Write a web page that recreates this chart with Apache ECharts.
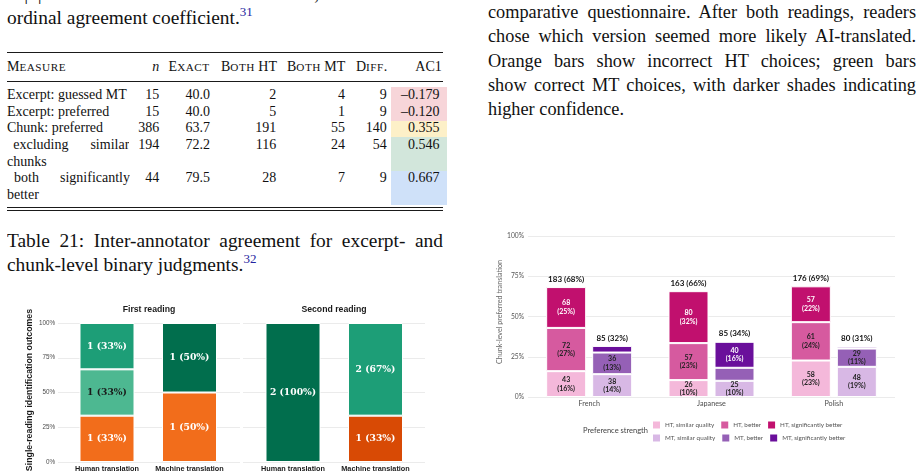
<!DOCTYPE html>
<html>
<head>
<meta charset="utf-8">
<title>Inter-annotator agreement and reading outcomes</title>
<script src="https://cdn.jsdelivr.net/npm/echarts@6.0.0/dist/echarts.min.js"></script>
<style>
  html, body { margin:0; padding:0; background:#fff; }
  body { width:923px; height:473px; overflow:hidden; position:relative;
         font-family:"Liberation Serif","Times New Roman",serif; color:#111; }
  .ab { position:absolute; white-space:nowrap; }
  .jl { text-align:justify; text-align-last:justify; white-space:normal; overflow:hidden; }
  .sup { font-size:13px; position:relative; top:-8px; color:#2424a0; }
  .rule { position:absolute; background:#1a1a1a; left:7px; width:436px; }
  .cellbg { position:absolute; left:391px; width:56px; }
  .sc { font-size:11.2px; letter-spacing:0.5px; }
  #left { position:absolute; left:0; top:290px; width:460px; height:183px; }
  #right { position:absolute; left:480px; top:225px; width:443px; height:248px; }
</style>
</head>
<body>
<div id="page"></div>
<div id="left"></div>
<div id="right"></div>
<script>
// ---------------- Data: left chart (single-reading identification outcomes) ----------------
const readingCats = ['Human translation', 'Machine translation'];
const readingTitles = ['First reading', 'Second reading'];
const outcomeNames = ['HT chosen, confident', 'HT chosen, very confident', 'MT chosen, unsure', 'MT chosen, confident', 'MT chosen, very confident'];
// counts per category [Human translation, Machine translation]
const firstHtConfident = [1, 1];
const firstHtVeryConfident = [0, 0];
const firstMtUnsure = [1, 0];
const firstMtConfident = [1, 0];
const firstMtVeryConfident = [0, 1];
const secondHtConfident = [0, 0];
const secondHtVeryConfident = [0, 1];
const secondMtUnsure = [0, 0];
const secondMtConfident = [0, 2];
const secondMtVeryConfident = [2, 0];
const yTicks = [0, 25, 50, 75, 100];

// ---------------- Data: right chart (chunk-level preferred translation) ----------------
const languages = ['French', 'Japanese', 'Polish'];
const prefNames = ['HT, similar quality', 'HT, better', 'HT, significantly better',
                   'MT, similar quality', 'MT, better', 'MT, significantly better'];
const htSimilar = [43, 26, 58];
const htBetter = [72, 57, 61];
const htSignificant = [68, 80, 57];
const mtSimilar = [38, 25, 48];
const mtBetter = [36, 20, 29];
const mtSignificant = [11, 40, 3];

// ---------------- Data: table 21 ----------------
const tableHeader = ['Measure', 'n', 'Exact', 'Both HT', 'Both MT', 'Diff.', 'AC1'];
const tableMeasures = [['Excerpt: guessed MT'], ['Excerpt: preferred'], ['Chunk: preferred'],
                       ['excluding similar', 'chunks'], ['both significantly', 'better']];
const tableN = ['15', '15', '386', '194', '44'];
const tableExact = ['40.0', '40.0', '63.7', '72.2', '79.5'];
const tableBothHT = ['2', '5', '191', '116', '28'];
const tableBothMT = ['4', '1', '55', '24', '7'];
const tableDiff = ['9', '9', '140', '54', '9'];
const tableAC1 = ['\u20130.179', '\u20130.120', '0.355', '0.546', '0.667'];

// ---------------- Page text ----------------
const page = document.getElementById('page');
function line(html, x, baseline, opts) {
  opts = opts || {};
  const F = opts.size || 19.4, L = opts.lh || 24;
  const d = document.createElement('div');
  d.className = 'ab' + (opts.justify ? ' jl' : '');
  d.style.fontSize = F + 'px';
  d.style.lineHeight = L + 'px';
  d.style.height = L + 'px';
  d.style.top = (baseline - ((L - 1.107 * F) / 2 + 0.891 * F)) + 'px';
  if (opts.align === 'right') {
    d.style.left = (x - 200) + 'px'; d.style.width = '200px'; d.style.textAlign = 'right';
  } else {
    d.style.left = x + 'px';
    if (opts.width) d.style.width = opts.width + 'px';
  }
  d.innerHTML = html;
  page.appendChild(d);
}
function box(cls, x, y, w, h, color) {
  const d = document.createElement('div');
  d.className = cls;
  d.style.left = x + 'px'; d.style.top = y + 'px';
  d.style.width = w + 'px'; d.style.height = h + 'px';
  if (color) d.style.background = color;
  page.appendChild(d);
}
function sc(word) { // small caps like LaTeX \textsc
  return word.split(' ').map(w => {
    let out = '', i = 0;
    while (i < w.length) {
      const ch = w[i];
      if (ch === ch.toUpperCase() && ch !== ch.toLowerCase() || /[0-9.]/.test(ch)) { out += ch; i++; }
      else { let j = i; while (j < w.length && w[j] !== w[j].toUpperCase()) j++;
             out += '<span class="sc">' + w.slice(i, j).toUpperCase() + '</span>'; i = j; }
    }
    return out;
  }).join(' ');
}

// left column prose
line('M|<i>d</i>| is mean absolute score difference; AC2 is Gwet\u2019s', 7, 0.5, {justify: true, width: 436});
line('ordinal agreement coefficient.<span class="sup">31</span>', 7, 25);
// right column prose
const rightLines = ['comparative questionnaire. After both readings, readers',
                    'chose which version seemed more likely AI-translated.',
                    'Orange bars show incorrect HT choices; green bars',
                    'show correct MT choices, with darker shades indicating',
                    'higher confidence.'];
rightLines.forEach((t, i) => line(t, 488, 18.3 + 24.2 * i,
  i < 4 ? {justify: true, width: 428, size: 18.3} : {size: 18.3}));

// table
box('cellbg', 391, 87.3, 56, 33.3, '#F7D5D9');
box('cellbg', 391, 120.6, 56, 16.7, '#FDF0C8');
box('cellbg', 391, 137.3, 56, 33.3, '#D2E6DB');
box('cellbg', 391, 170.6, 56, 34, '#CFE1F9');
box('rule', 7, 51.6, 436, 1.4);
box('rule', 7, 80.6, 436, 0.9);
box('rule', 7, 206.9, 436, 0.9);
box('rule', 7, 209.6, 436, 0.9);
const T = {size: 14, lh: 16.6};
const colRight = [159.3, 210, 276.3, 345, 386.8, 439.5];
const headRight = [159.3, 209.6, 277, 345.3, 387.2, 441.8];
line(sc(tableHeader[0]), 7, 71.7, T);
line('<i>n</i>', headRight[0], 71.7, Object.assign({align: 'right'}, T));
for (let c = 2; c < tableHeader.length; c++) {
  const txt = tableHeader[c] === 'AC1' ? 'AC1' : sc(tableHeader[c]);
  line(txt, headRight[c - 1], 71.7, Object.assign({align: 'right'}, T));
}
const rowBase = [100, 116.6, 133.3, 150, 183.3];
const cols = [tableN, tableExact, tableBothHT, tableBothMT, tableDiff, tableAC1];
tableMeasures.forEach((m, r) => {
  const b = rowBase[r];
  if (m.length === 1) line(m[0], 7, b, T);
  else {
    line(m[0], r === 3 ? 13.3 : 14, b, Object.assign({justify: true, width: 116}, T));
    line(m[1], 7, b + 16.65, T);
  }
  cols.forEach((col, c) => line(col[r], colRight[c], b, Object.assign({align: 'right'}, T)));
});
// caption
line('Table 21: Inter-annotator agreement for excerpt- and', 7, 247.7, {justify: true, width: 436});
line('chunk-level binary judgments.<span class="sup">32</span>', 7, 272);

// ---------------- Left chart ----------------
const leftFont = '"Liberation Sans", Arial, sans-serif';
const outcomeColors = ['#F26D1B', '#D84A05', '#4DB891', '#1D9E77', '#016E4D'];
const outcomeText = ['#ffffff', '#ffffff', '#1a1a1a', '#ffffff', '#ffffff'];
const facetCounts = [
  [firstHtConfident, firstHtVeryConfident, firstMtUnsure, firstMtConfident, firstMtVeryConfident],
  [secondHtConfident, secondHtVeryConfident, secondMtUnsure, secondMtConfident, secondMtVeryConfident]
];
const bgLeft = [58, 243], dataLeft = [65.75, 251.75];
const lGrid = [], lX = [], lY = [], lSeries = [];
for (let f = 0; f < 2; f++) lGrid.push({left: bgLeft[f], top: 33, width: 182, height: 139});
for (let f = 0; f < 2; f++) lGrid.push({left: dataLeft[f], top: 33, width: 165, height: 139});
for (let f = 0; f < 2; f++) {
  lX.push({type: 'value', gridIndex: f, min: 0, max: 1, show: false});
  lY.push({type: 'value', gridIndex: f, min: yTicks[0], max: yTicks[yTicks.length - 1], interval: 25,
    axisLine: {show: false}, axisTick: {show: false},
    axisLabel: {show: f === 0, formatter: '{value}%', fontSize: 6.3, color: '#4d4d4d', margin: 3, fontFamily: leftFont},
    splitLine: {lineStyle: {color: '#ebebeb', width: 1}}});
}
for (let f = 0; f < 2; f++) {
  lX.push({type: 'category', gridIndex: 2 + f, data: readingCats,
    axisLine: {show: false}, axisTick: {show: false},
    axisLabel: {interval: 0, fontSize: 7.3, fontWeight: 'bold', color: '#1a1a1a', margin: 3, fontFamily: leftFont}});
  lY.push({type: 'value', gridIndex: 2 + f, min: 0, max: 100, show: false, splitLine: {show: false}});
}
facetCounts.forEach((counts, f) => {
  const totals = readingCats.map((_, i) => counts.reduce((s, a) => s + a[i], 0));
  counts.forEach((arr, k) => {
    lSeries.push({
      type: 'bar', name: outcomeNames[k], xAxisIndex: 2 + f, yAxisIndex: 2 + f, stack: 'reading' + f,
      barWidth: 55,
      itemStyle: {color: outcomeColors[k], borderColor: '#ffffff', borderWidth: 1},
      label: {show: true, position: 'inside', color: outcomeText[k], fontFamily: '"DejaVu Serif", serif',
              fontWeight: 'bold', fontSize: 9.2,
              formatter: p => p.data.n + ' (' + Math.round(p.data.value) + '%)'},
      data: arr.map((c, i) => c > 0 ? {value: c / totals[i] * 100, n: c} : '-')
    });
  });
});
const leftChart = echarts.init(document.getElementById('left'));
leftChart.setOption({
  animation: false,
  grid: lGrid, xAxis: lX, yAxis: lY, series: lSeries,
  graphic: readingTitles.map((t, f) => ({
    type: 'text', x: bgLeft[f] + 91, y: 20,
    style: {text: t, align: 'center', verticalAlign: 'middle', fontSize: 8.7, fontWeight: 'bold',
            fontFamily: leftFont, fill: '#1a1a1a'}
  })).concat([{
    type: 'text', x: 30, y: 100, rotation: Math.PI / 2,
    style: {text: 'Single-reading identification outcomes', align: 'center', verticalAlign: 'middle',
            fontSize: 8.8, fontWeight: 'bold', fontFamily: leftFont, fill: '#1a1a1a'}
  }])
});

// ---------------- Right chart ----------------
const rightFont = 'Lato, "Open Sans", sans-serif';
const prefColors = ['#F4B8DA', '#D65A9F', '#C1106E', '#D8B8E5', '#9560B6', '#6A0F9B'];
const prefText = ['#222222', '#222222', '#ffffff', '#222222', '#222222', '#ffffff'];
const prefData = [htSimilar, htBetter, htSignificant, mtSimilar, mtBetter, mtSignificant];
const langTotals = languages.map((_, i) => prefData.reduce((s, a) => s + a[i], 0));
const stackTotals = {
  HT: languages.map((_, i) => htSimilar[i] + htBetter[i] + htSignificant[i]),
  MT: languages.map((_, i) => mtSimilar[i] + mtBetter[i] + mtSignificant[i])
};
const rSeries = prefData.map((arr, k) => ({
  type: 'bar', name: prefNames[k], stack: k < 3 ? 'HT' : 'MT', barWidth: 40, barGap: '15%',
  itemStyle: {color: prefColors[k], borderColor: '#ffffff', borderWidth: 1},
  label: {show: true, position: 'inside', color: prefText[k], fontFamily: rightFont, fontWeight: 'bold',
          fontSize: 7, lineHeight: 8.5,
          formatter: p => p.data.pct >= 9 ? p.data.n + '\n(' + Math.round(p.data.pct) + '%)' : ''},
  data: arr.map((c, i) => ({value: c / langTotals[i] * 100, n: c, pct: c / langTotals[i] * 100}))
}));
['HT', 'MT'].forEach(s => {
  rSeries.push({
    type: 'bar', name: s + ' total', stack: s, barWidth: 40, barGap: '15%',
    itemStyle: {color: 'rgba(0,0,0,0)', borderWidth: 0},
    label: {show: true, position: 'top', distance: 4, color: '#111111', fontFamily: rightFont, fontWeight: 'bold',
            fontSize: 8, formatter: p => p.data.n + ' (' + Math.round(p.data.n / langTotals[p.dataIndex] * 100) + '%)'},
    data: stackTotals[s].map(t => ({value: 0, n: t}))
  });
});
const legendBase = {orient: 'horizontal', left: 173, itemWidth: 7, itemHeight: 7, itemGap: 7, icon: 'rect',
  padding: 0, selectedMode: false, itemStyle: {borderWidth: 0},
  textStyle: {fontSize: 6.3, color: '#555555', fontFamily: rightFont}};
const rightChart = echarts.init(document.getElementById('right'));
rightChart.setOption({
  animation: false,
  grid: {left: 48, top: 11, width: 367, height: 161},
  xAxis: {type: 'category', data: languages, axisLine: {show: false}, axisTick: {show: false},
          axisLabel: {fontSize: 7.2, color: '#4d4d4d', margin: 3, fontFamily: rightFont}},
  yAxis: {type: 'value', min: 0, max: 100, interval: 25, axisLine: {show: false}, axisTick: {show: false},
          axisLabel: {formatter: '{value}%', fontSize: 6.7, color: '#555555', margin: 4, fontFamily: rightFont},
          splitLine: {lineStyle: {color: '#ebebeb', width: 1}}},
  legend: [
    Object.assign({}, legendBase, {top: 196.5, data: prefNames.slice(0, 3)}),
    Object.assign({}, legendBase, {top: 209.5, data: prefNames.slice(3)})
  ],
  graphic: [
    {type: 'text', x: 103, y: 206,
     style: {text: 'Preference strength', align: 'left', verticalAlign: 'middle', fontSize: 7.5,
             fontFamily: rightFont, fill: '#444444'}},
    {type: 'text', x: 20, y: 87, rotation: Math.PI / 2,
     style: {text: 'Chunk-level preferred translation', align: 'center', verticalAlign: 'middle', fontSize: 7.2,
             fontFamily: rightFont, fill: '#666666'}}
  ],
  series: rSeries
});
</script>
</body>
</html>
